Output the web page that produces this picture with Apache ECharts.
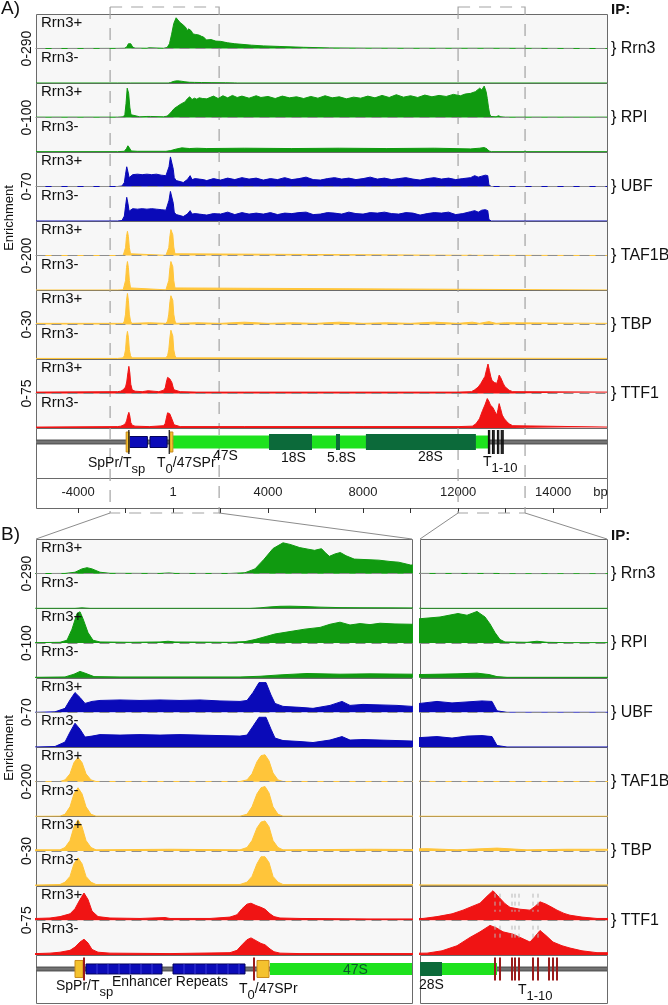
<!DOCTYPE html>
<html>
<head>
<meta charset="utf-8">
<script src="https://cdn.jsdelivr.net/npm/echarts@6/dist/echarts.min.js"></script>
<style>
  html, body { margin: 0; background: #fff; }
  #c { width: 668px; height: 1005px; }
</style>
</head>
<body>
<div id="c"></div>
<script>
// ---- data ----
const factors = ['Rrn3', 'RPI', 'UBF', 'TAF1B', 'TBP', 'TTF1'];
const scaleMax = [290, 100, 70, 200, 30, 75];
const scaleLabels = ['0-290', '0-100', '0-70', '0-200', '0-30', '0-75'];
const conditions = ['Rrn3+', 'Rrn3-'];

// enrichment tracks, [bp, value]
const rrn3Plus = [[-5770,0],[-2340,1],[-2050,2],[-1950,12],[-1880,40],[-1830,50],[-1780,40],[-1700,12],[-1600,3],[-1100,2],[-1010,6],[-950,2],[-400,2],[-250,8],[-150,40],[-60,120],[30,210],[130,258],[200,245],[297,218],[380,205],[446,195],[515,209],[560,170],[594,145],[650,165],[703,177],[760,150],[842,122],[950,118],[1089,113],[1200,102],[1287,96],[1406,72],[1600,75],[1800,62],[2000,60],[2300,48],[2600,40],[2900,35],[3300,28],[3800,22],[4500,17],[5500,10],[6600,5],[8000,3],[10000,2],[12000,2],[13300,2],[13350,0],[18270,0]];
const rrn3Minus = [[-5770,0],[-2340,0],[-1950,0],[-1880,4],[-1800,0],[-200,0],[-100,4],[0,12],[100,17],[200,18],[350,15],[500,10],[700,6],[900,5],[1200,4],[1600,3],[2200,2],[2600,1],[2700,0],[18270,0]];
const rpiPlus = [[-5770,1],[-2340,1],[-2100,2],[-2030,8],[-1980,40],[-1930,85],[-1900,90],[-1870,70],[-1820,30],[-1770,8],[-1700,3],[-1400,2],[-1100,3],[-1020,5],[-950,3],[-400,2],[-250,4],[-150,10],[-50,18],[50,26],[200,33],[350,40],[500,45],[600,54],[700,60],[800,52],[900,56],[1000,53],[1100,57],[1250,55],[1420,54],[1700,62],[1900,55],[2100,63],[2300,57],[2500,64],[2700,58],[2900,62],[3200,56],[3500,63],[3700,58],[4000,61],[4300,55],[4600,62],[4900,57],[5200,60],[5500,55],[5800,61],[6100,56],[6400,63],[6700,57],[7000,60],[7300,54],[7600,59],[7900,56],[8200,62],[8500,57],[8800,64],[9100,58],[9400,66],[9700,59],[10000,63],[10300,58],[10600,65],[10900,60],[11200,64],[11500,61],[11800,67],[12100,63],[12300,68],[12530,70],[12730,75],[12910,85],[13000,80],[13100,91],[13180,75],[13230,55],[13280,30],[13330,10],[13380,3],[13600,2],[13700,5],[13800,2],[14000,1],[18270,1]];
const rpiMinus = [[-5770,1],[-2340,1],[-2050,2],[-1960,10],[-1900,18],[-1840,12],[-1760,3],[-1500,2],[-300,2],[-100,4],[100,8],[370,12],[700,10],[1000,11],[1420,10],[3000,11],[5000,10],[7000,11],[9000,10],[11000,11],[12530,9],[12900,11],[13100,13],[13220,9],[13300,3],[13400,1],[18270,1]];
const ubfPlus = [[-5770,0],[-2340,0],[-2150,1],[-2050,8],[-2000,25],[-1950,40],[-1900,30],[-1850,18],[-1780,22],[-1700,24],[-1500,25],[-1300,24],[-1100,25],[-900,24],[-700,25],[-500,23],[-300,22],[-230,24],[-170,40],[-110,60],[-40,60],[10,35],[50,18],[130,12],[300,10],[430,8],[600,14],[720,22],[800,14],[930,16],[1100,15],[1270,14],[1420,12],[1700,16],[2000,13],[2300,17],[2600,14],[2900,18],[3200,15],[3500,17],[3800,13],[4100,16],[4400,14],[4700,18],[5000,14],[5300,16],[5600,19],[5900,14],[6200,13],[6500,16],[6800,18],[7100,15],[7400,17],[7700,14],[8000,16],[8300,19],[8600,15],[8900,17],[9200,14],[9500,16],[9800,18],[10100,15],[10400,13],[10700,16],[11000,18],[11300,15],[11600,17],[11900,14],[12200,16],[12530,18],[12700,22],[12850,19],[13000,21],[13150,23],[13250,22],[13300,3],[13400,0],[18270,0]];
const ubfMinus = [[-5770,0],[-2340,0],[-2150,1],[-2050,10],[-2000,30],[-1950,48],[-1900,36],[-1850,20],[-1780,22],[-1700,25],[-1500,24],[-1300,25],[-1100,24],[-900,25],[-700,24],[-500,23],[-300,22],[-230,24],[-170,42],[-110,60],[-40,60],[10,36],[50,18],[130,13],[300,11],[430,9],[600,14],[720,21],[800,14],[930,15],[1100,14],[1270,13],[1420,12],[1700,15],[2000,14],[2300,18],[2600,13],[2900,17],[3200,14],[3500,16],[3800,14],[4100,17],[4400,13],[4700,16],[5000,15],[5300,17],[5600,18],[5900,13],[6200,14],[6500,17],[6800,16],[7100,14],[7400,18],[7700,15],[8000,14],[8300,17],[8600,16],[8900,18],[9200,15],[9500,14],[9800,17],[10100,16],[10400,12],[10700,15],[11000,17],[11300,16],[11600,18],[11900,13],[12200,15],[12530,19],[12700,21],[12850,18],[13000,22],[13150,23],[13250,21],[13300,3],[13400,0],[18270,0]];
const taf1bPlus = [[-5770,0],[-2340,0],[-2100,1],[-2050,10],[-2000,45],[-1960,110],[-1920,140],[-1880,110],[-1840,45],[-1790,10],[-1740,1],[-300,1],[-230,10],[-180,45],[-130,115],[-90,150],[-50,155],[-10,120],[30,50],[80,10],[130,1],[12400,1],[12500,3],[12600,1],[18270,0]];
const taf1bMinus = [[-5770,0],[-2340,0],[-2100,1],[-2050,12],[-2000,55],[-1960,130],[-1920,165],[-1880,130],[-1840,55],[-1790,12],[-1740,1],[-300,1],[-230,12],[-180,55],[-130,130],[-90,165],[-50,172],[-10,135],[30,55],[80,12],[130,1],[18270,0]];
const tbpPlus = [[-5770,1],[-2340,1],[-2100,1],[-2050,3],[-2000,9],[-1960,21],[-1920,27],[-1880,21],[-1840,9],[-1790,3],[-1740,1],[-1000,1.5],[-300,1],[-230,3],[-180,9],[-130,20],[-90,25],[-50,26],[-10,21],[30,9],[80,3],[130,1],[1000,1.5],[2000,1],[3000,2],[4000,1],[5000,1.5],[6000,1],[7000,2],[8000,1],[9000,1.5],[10000,1],[11000,2],[12000,1],[12600,2],[12900,1],[13300,2.5],[13600,1],[14000,1.5],[18270,1]];
const tbpMinus = [[-5770,0.5],[-2340,0.5],[-2100,1],[-2050,3],[-2000,8],[-1960,19],[-1920,24],[-1880,19],[-1840,8],[-1790,3],[-1740,1],[-300,1],[-230,3],[-180,8],[-130,19],[-90,25],[-50,25],[-10,20],[30,8],[80,3],[130,1],[18270,0.5]];
const ttf1Plus = [[-5770,3],[-2340,4],[-2200,5],[-2100,8],[-2000,14],[-1950,25],[-1900,45],[-1860,59],[-1820,45],[-1780,20],[-1720,8],[-1600,5],[-1300,4],[-1050,6],[-1000,4],[-600,4],[-400,7],[-330,12],[-280,25],[-230,35],[-190,37],[-140,32],[-90,28],[-50,24],[0,14],[40,8],[100,5],[300,4],[1000,3],[3000,3],[6000,3],[9000,3],[12000,3],[12560,4],[12700,8],[12850,14],[12960,22],[13050,30],[13130,37],[13200,52],[13260,64],[13320,50],[13380,36],[13430,28],[13530,24],[13630,22],[13680,30],[13730,40],[13790,35],[13850,28],[13900,22],[13970,15],[14030,11],[14150,7],[14300,4],[18270,3]];
const ttf1Minus = [[-5770,2],[-2340,3],[-2200,4],[-2100,6],[-2000,10],[-1950,17],[-1900,28],[-1860,34],[-1820,26],[-1780,12],[-1720,6],[-1600,4],[-1000,3],[-400,5],[-330,10],[-280,22],[-230,33],[-190,37],[-140,31],[-90,25],[-50,22],[0,13],[40,7],[100,4],[300,3],[3000,3],[8000,3],[12000,3],[12600,4],[12750,9],[12900,20],[13030,38],[13130,50],[13230,64],[13300,58],[13360,50],[13460,45],[13550,36],[13630,28],[13680,40],[13730,53],[13790,42],[13860,28],[13950,20],[14030,15],[14150,9],[14300,5],[18270,2]];

// rDNA repeat map (bp)
const backbone = [-6000, 19000];
const enhancerRepeats = [[-1840, -1080], [-970, -250]];
const promoterBoxes = [[-1950, -1870], [-130, -10]];
const transcript47S = [0, 13300];
const matureRNAs = [[4040, 5850], [6860, 7030], [8120, 12750]];
const terminatorSites = [-1860, -160, 13280, 13330, 13450, 13480, 13520, 13660, 13710, 13820, 13860, 13900];

// zoomed regions marked in A
const zoomRegions = [[-2650, 1940], [12000, 14820]];

// A axis ticks
const tickValues = [-4000, -2000, 0, 2000, 4000, 6000, 8000, 10000, 12000, 14000, 16000, 18000];
const tickLabelValues = [-4000, 0, 4000, 8000, 12000, 16000, 18000];
const tickLabelTexts = ['-4000', '1', '4000', '8000', '12000', '14000', 'bp'];

// ---- style / layout ----
const FONT = 'Liberation Sans';
const trackColors = ['#109a10', '#109a10', '#0a0ab8', '#ffc53a', '#ffc53a', '#f01414'];
const trackData = [[rrn3Plus, rrn3Minus], [rpiPlus, rpiMinus], [ubfPlus, ubfMinus],
  [taf1bPlus, taf1bMinus], [tbpPlus, tbpMinus], [ttf1Plus, ttf1Minus]];

const panels = [
  { label: 'A)', labelY: 0, ipY: 3, top: 14, pairH: 69, geneH: 50, enrichY: 218,
    views: [{ min: -5770, max: 18270, left: 36, right: 607 }],
    term: { color: '#111', w: 1.2, h: 24 }, promH: 20, matureH: 16, rrnaH: 13 },
  { label: 'B)', labelY: 526, ipY: 529, top: 539, pairH: 69.33, geneH: 48, enrichY: 748,
    views: [{ min: -2340, max: 1420, left: 36, right: 412 }, { min: 12530, max: 14400, left: 420, right: 607 }],
    term: { color: '#9a1b1b', w: 2, h: 23 }, promH: 17, matureH: 14, rrnaH: 12 }
];

const grids = [], xAxes = [], yAxes = [], series = [], graphics = [];

const ctx = document.createElement('canvas').getContext('2d');
function textW(s, size) { ctx.font = size + 'px ' + FONT; return ctx.measureText(s).width; }

function txt(x, y, text, size, extra) {
  const o = { type: 'text', x: x, y: y, z: 20, silent: true,
    style: { text: text, fontSize: size, fontFamily: FONT, fill: '#111', align: 'left', verticalAlign: 'middle' } };
  if (extra) {
    if (extra.style) Object.assign(o.style, extra.style);
    if (extra.rotation) o.rotation = extra.rotation;
  }
  return o;
}
function subLabel(x, y, parts, size, color) {
  let cx = x;
  parts.forEach(([t, isSub]) => {
    const fs = isSub ? size - 1 : size;
    graphics.push(txt(cx, y + (isSub ? 6 : 0), t, fs, { style: { fill: color || '#111' } }));
    cx += textW(t, fs);
  });
}
function frame(x, y, w, h, fill) {
  graphics.push({ type: 'rect', z: 0, silent: true,
    shape: { x: Math.round(x) + 0.5, y: Math.round(y) + 0.5, width: Math.round(w), height: Math.round(h) },
    style: { fill: fill, stroke: '#6a6a6a', lineWidth: 1 } });
}
function addGrid(left, top, width, height, xmin, xmax, ymax, xAxisOpt) {
  const i = grids.length;
  grids.push({ left: left, top: top, width: width, height: height });
  xAxes.push(Object.assign({ gridIndex: i, type: 'value', min: xmin, max: xmax, show: false }, xAxisOpt || {}));
  yAxes.push({ gridIndex: i, type: 'value', min: 0, max: ymax, show: false });
  return i;
}

const geneKinds = ['backbone', 'enhancer', 'rrna', 'mature', 'promoter', 'terminator'];
const geneData = [];
geneData.push([0, backbone[0], backbone[1]]);
enhancerRepeats.forEach(r => geneData.push([1, r[0], r[1]]));
geneData.push([2, transcript47S[0], transcript47S[1]]);
matureRNAs.forEach(r => geneData.push([3, r[0], r[1]]));
promoterBoxes.forEach(r => geneData.push([4, r[0], r[1]]));
terminatorSites.forEach(t => geneData.push([5, t, t]));

function geneRender(p) {
  return function (params, api) {
    const kind = geneKinds[api.value(0)];
    const cs = params.coordSys;
    const cy = cs.y + 14;
    const x0 = api.coord([api.value(1), 0])[0];
    const x1 = api.coord([api.value(2), 0])[0];
    const rect = (h, fill, stroke, minW) => {
      let a = x0, w = x1 - x0;
      if (minW && w < minW) { a = (x0 + x1) / 2 - minW / 2; w = minW; }
      return { type: 'rect', shape: { x: a, y: cy - h / 2, width: w, height: h },
        style: { fill: fill, stroke: stroke || null, lineWidth: 1 } };
    };
    if (kind === 'backbone') {
      return { type: 'group', children: [rect(5, '#5c5c5c'),
        { type: 'line', shape: { x1: x0, y1: cy, x2: x1, y2: cy }, style: { stroke: '#8a8a8a', lineWidth: 1 } }] };
    }
    if (kind === 'enhancer') {
      const eh = p.rrnaH - 2;
      const ch = [rect(eh, '#0b0bb8', '#04045a')];
      const step = api.size([110, 0])[0];
      if (step > 5) {
        for (let x = x0 + step; x < x1 - 2; x += step) {
          ch.push({ type: 'line', shape: { x1: x, y1: cy - eh / 2, x2: x, y2: cy + eh / 2 },
            style: { stroke: '#3b3bd6', lineWidth: 1 } });
        }
      }
      return { type: 'group', children: ch };
    }
    if (kind === 'rrna') return rect(p.rrnaH, '#1ee21e');
    if (kind === 'mature') return rect(p.matureH, '#0c6a3a', null, 3);
    if (kind === 'promoter') return rect(p.promH, '#f4c22e', '#c8891a', 3);
    const h = p.term.h;
    return { type: 'line', shape: { x1: x0, y1: cy - h / 2, x2: x0, y2: cy + h / 2 },
      style: { stroke: p.term.color, lineWidth: p.term.w } };
  };
}

panels.forEach((p, pi) => {
  p.views.forEach((v, vi) => {
    const w = v.right - v.left;
    factors.forEach((f, fi) => {
      const pTop = p.top + fi * p.pairH;
      frame(v.left, pTop, w, p.pairH, '#f7f7f7');
      [0, 1].forEach(ci => {
        const tTop = pTop + ci * p.pairH / 2;
        const axisOpt = ci === 0 ? {
          show: true, z: 3,
          axisLine: { show: true, onZero: false, lineStyle: { color: '#8e8e8e', type: [9, 7], width: 1.2 } },
          axisTick: { show: false }, axisLabel: { show: false }, splitLine: { show: false }
        } : null;
        const gi = addGrid(v.left, tTop, w, p.pairH / 2, v.min, v.max, scaleMax[fi], axisOpt);
        series.push({
          type: 'line', xAxisIndex: gi, yAxisIndex: gi, data: trackData[fi][ci],
          symbol: 'none', silent: true, z: 2,
          lineStyle: { color: trackColors[fi], width: 1 },
          areaStyle: { color: trackColors[fi], opacity: 1 }
        });
        if (vi === 0) graphics.push(txt(v.left + 5, tTop + 9, conditions[ci], 15));
      });
      // terminator marks over the TTF1 peaks in the zoomed 3' view
      if (pi === 1 && vi === 1 && f === 'TTF1') {
        const gi = addGrid(v.left, pTop, w, p.pairH, v.min, v.max, 1, null);
        series.push({ type: 'custom', xAxisIndex: gi, yAxisIndex: gi, silent: true, clip: true, z: 4,
          data: terminatorSites.filter(t => t > v.min && t < 13750).map(t => [t]), encode: { x: 0 },
          renderItem: function (params, api) {
            const cs = params.coordSys;
            const x = api.coord([api.value(0), 0])[0];
            return { type: 'group', children: [
              { type: 'line', shape: { x1: x, y1: cs.y + 8, x2: x, y2: cs.y + 26 },
                style: { stroke: '#b8b8b8', lineWidth: 1, lineDash: [4, 4] } },
              { type: 'line', shape: { x1: x, y1: cs.y + 40, x2: x, y2: cs.y + 54 },
                style: { stroke: '#b8b8b8', lineWidth: 1, lineDash: [4, 4] } }
            ] };
          }
        });
      }
      if (vi === 0) {
        graphics.push(txt(27, pTop + p.pairH / 2, scaleLabels[fi], 14,
          { rotation: Math.PI / 2, style: { align: 'center' } }));
        graphics.push(txt(611, pTop + p.pairH / 2, '} ' + f, 16));
      }
    });
    const gTop = p.top + 6 * p.pairH;
    frame(v.left, gTop, w, p.geneH, '#ffffff');
    const gi = addGrid(v.left, gTop, w, p.geneH, v.min, v.max, 1, null);
    series.push({ type: 'custom', xAxisIndex: gi, yAxisIndex: gi, data: geneData, clip: true, z: 3,
      silent: true, encode: { x: [1, 2] }, renderItem: geneRender(p) });
  });
  graphics.push(txt(1, p.labelY + 9, p.label, 19));
  graphics.push(txt(611, p.ipY + 7, 'IP:', 15, { style: { fontWeight: 'bold' } }));
  graphics.push(txt(9, p.enrichY, 'Enrichment', 13, { rotation: Math.PI / 2, style: { align: 'center' } }));
});

// A axis
(function () {
  const p = panels[0], v = p.views[0];
  const aTop = p.top + 6 * p.pairH + p.geneH;
  frame(v.left, aTop, v.right - v.left, 30, '#ffffff');
  addGrid(v.left, aTop, v.right - v.left, 30, v.min, v.max, 1, {
    show: true, position: 'top',
    axisLine: { show: false },
    axisTick: { show: true, inside: true, length: 5, customValues: tickValues, lineStyle: { color: '#333' } },
    axisLabel: { show: true, inside: true, margin: 8, fontSize: 13, fontFamily: FONT, color: '#222',
      customValues: tickLabelValues, formatter: val => tickLabelTexts[tickLabelValues.indexOf(val)] },
    splitLine: { show: false }
  });
})();

// zoom marks in A and connectors to B
(function () {
  const v = panels[0].views[0];
  const bTop = panels[1].top;
  const targets = panels[1].views;
  const gi = addGrid(v.left, 7, v.right - v.left, 506, v.min, v.max, 1, null);
  series.push({ type: 'custom', xAxisIndex: gi, yAxisIndex: gi, data: zoomRegions, clip: false, z: 1, silent: true,
    encode: { x: [0, 1] },
    renderItem: function (params, api) {
      const cs = params.coordSys;
      const x0 = api.coord([api.value(0), 0])[0];
      const x1 = api.coord([api.value(1), 0])[0];
      const t = targets[params.dataIndex];
      const bot = cs.y + cs.height;
      return { type: 'group', children: [
        { type: 'rect', shape: { x: x0, y: cs.y, width: x1 - x0, height: cs.height },
          style: { fill: null, stroke: '#a3a3a3', lineWidth: 1.2, lineDash: [12, 9] } },
        { type: 'line', shape: { x1: x0, y1: bot, x2: t.left, y2: bTop }, style: { stroke: '#8c8c8c', lineWidth: 1 } },
        { type: 'line', shape: { x1: x1, y1: bot, x2: t.right, y2: bTop }, style: { stroke: '#8c8c8c', lineWidth: 1 } }
      ] };
    }
  });
})();

// map labels
subLabel(88, 463, [['SpPr/T', 0], ['sp', 1]], 14);
subLabel(157, 463, [['T', 0], ['0', 1], ['/47SPr', 0]], 14);
subLabel(213, 456, [['47S', 0]], 14);
subLabel(281, 458, [['18S', 0]], 14);
subLabel(327, 458, [['5.8S', 0]], 14);
subLabel(418, 457, [['28S', 0]], 14);
subLabel(483, 462, [['T', 0], ['1-10', 1]], 14);

subLabel(56, 986, [['SpPr/T', 0], ['sp', 1]], 14);
subLabel(112, 982, [['Enhancer Repeats', 0]], 14);
subLabel(239, 989, [['T', 0], ['0', 1], ['/47SPr', 0]], 14);
subLabel(343, 970, [['47S', 0]], 14, '#0c5a2c');
subLabel(419, 985, [['28S', 0]], 14);
subLabel(518, 990, [['T', 0], ['1-10', 1]], 14);

const chart = echarts.init(document.getElementById('c'));
chart.setOption({
  animation: false,
  backgroundColor: '#ffffff',
  grid: grids,
  xAxis: xAxes,
  yAxis: yAxes,
  series: series,
  graphic: { elements: graphics }
});
</script>
</body>
</html>
